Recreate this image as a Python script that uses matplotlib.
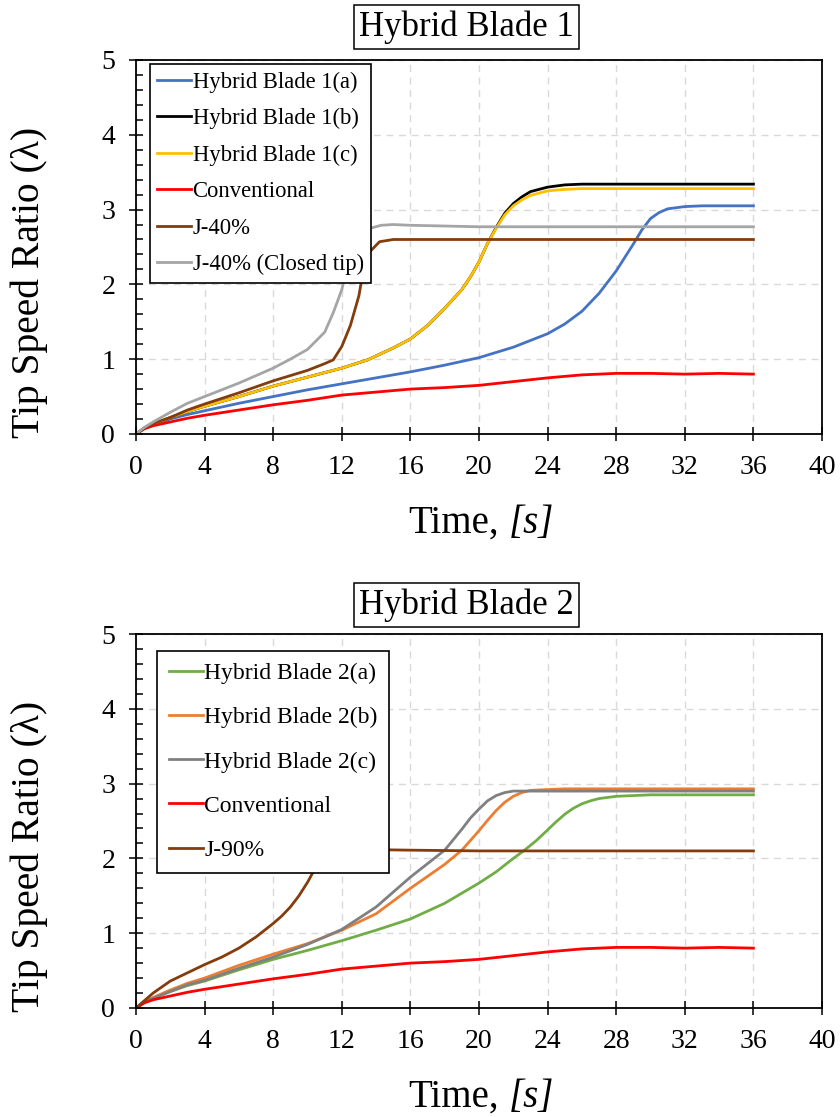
import matplotlib
matplotlib.use("Agg")
import matplotlib.pyplot as plt
from matplotlib.ticker import MultipleLocator

plt.rcParams['font.family'] = ['Liberation Serif', 'DejaVu Serif']

# ---- data (time [s], tip speed ratio) ----
# conventional blade (same in both panels)
t_conv = [0, 0.5, 1, 2, 3, 4, 6, 8, 10, 12, 14, 16, 18, 20, 22, 24, 26, 28, 30, 32, 34, 36]
conv = [0, 0.07, 0.11, 0.16, 0.21, 0.25, 0.32, 0.39, 0.45, 0.52, 0.56, 0.6, 0.62, 0.65, 0.7, 0.75,
        0.79, 0.81, 0.81, 0.80, 0.81, 0.80]

# panel 1
t_h1a = [0, 0.5, 1, 2, 3, 4, 6, 8, 10, 12, 14, 16, 18, 20, 22, 24, 25, 26, 27, 27.5, 28, 28.5, 29,
         29.5, 30, 30.5, 31, 32, 33, 36]
h1a = [0, 0.08, 0.12, 0.2, 0.26, 0.31, 0.41, 0.5, 0.59, 0.67, 0.75, 0.83, 0.92, 1.02, 1.16, 1.34, 1.47,
       1.64, 1.88, 2.03, 2.18, 2.36, 2.54, 2.73, 2.88, 2.96, 3.01, 3.04, 3.05, 3.05]

t_h1b = [0, 0.5, 1, 2, 3, 4, 6, 8, 10, 12, 13.5, 15, 16, 17, 18, 19, 19.5, 20, 20.5, 21, 21.5, 22,
         22.5, 23, 24, 25, 26, 36]
h1b = [0, 0.08, 0.13, 0.22, 0.3, 0.37, 0.5, 0.64, 0.76, 0.88, 0.99, 1.15, 1.27, 1.45, 1.68, 1.93, 2.1,
       2.3, 2.55, 2.76, 2.95, 3.08, 3.17, 3.24, 3.3, 3.33, 3.34, 3.34]

t_h1c = [0, 0.5, 1, 2, 3, 4, 6, 8, 10, 12, 13.5, 15, 16, 17, 18, 19, 19.5, 20, 20.5, 21, 21.5, 22,
         22.5, 23, 24, 25, 26, 36]
h1c = [0, 0.08, 0.13, 0.22, 0.3, 0.37, 0.5, 0.64, 0.76, 0.88, 0.99, 1.15, 1.27, 1.45, 1.68, 1.93, 2.1,
       2.3, 2.55, 2.75, 2.93, 3.05, 3.13, 3.19, 3.25, 3.27, 3.28, 3.28]

t_j40 = [0, 0.5, 1, 2, 3, 4, 6, 8, 10, 11, 11.5, 12, 12.5, 13, 13.25, 13.65, 14.2, 15, 16, 36]
j40 = [0, 0.08, 0.14, 0.22, 0.32, 0.4, 0.55, 0.71, 0.85, 0.94, 0.99, 1.17, 1.45, 1.85, 2.19, 2.44,
       2.57, 2.6, 2.6, 2.6]

t_j40c = [0, 0.5, 1, 2, 3, 4, 6, 8, 9, 10, 11, 11.5, 12, 12.5, 13, 13.65, 14.3, 15, 16, 18, 20, 36]
j40c = [0, 0.09, 0.16, 0.29, 0.41, 0.5, 0.68, 0.88, 1.0, 1.13, 1.36, 1.62, 1.93, 2.4, 2.63, 2.75, 2.79,
        2.8, 2.79, 2.78, 2.77, 2.77]

# panel 2
t_h2a = [0, 0.5, 1, 2, 3, 4, 6, 8, 10, 12, 14, 16, 18, 20, 21, 22, 22.6, 23.3, 24, 24.5, 25, 25.5, 26,
         26.5, 27, 28, 30, 36]
h2a = [0, 0.08, 0.13, 0.22, 0.3, 0.36, 0.51, 0.65, 0.77, 0.9, 1.04, 1.19, 1.4, 1.67, 1.82, 2.0, 2.1,
       2.23, 2.38, 2.49, 2.59, 2.67, 2.73, 2.77, 2.8, 2.83, 2.85, 2.85]

t_h2b = [0, 0.5, 1, 2, 3, 4, 6, 8, 10, 12, 14, 16, 17, 18, 19, 19.5, 20, 20.5, 21, 21.5, 22, 22.5, 23,
         24, 25, 36]
h2b = [0, 0.08, 0.14, 0.24, 0.33, 0.4, 0.57, 0.72, 0.86, 1.04, 1.26, 1.6, 1.76, 1.92, 2.11, 2.24, 2.37,
       2.51, 2.64, 2.75, 2.83, 2.88, 2.91, 2.92, 2.93, 2.93]

t_h2c = [0, 0.5, 1, 2, 3, 4, 6, 8, 10, 12, 14, 16, 17, 18, 18.5, 19, 19.5, 20, 20.5, 21, 21.5, 22, 23, 36]
h2c = [0, 0.08, 0.13, 0.22, 0.31, 0.37, 0.53, 0.68, 0.85, 1.05, 1.35, 1.75, 1.93, 2.11, 2.25, 2.39,
       2.54, 2.66, 2.77, 2.84, 2.88, 2.9, 2.9, 2.9]

t_j90 = [0, 0.5, 1, 2, 3, 4, 5, 6, 7, 8, 8.5, 9, 9.5, 10, 10.5, 11, 11.5, 12, 13, 16, 20, 36]
j90 = [0, 0.1, 0.2, 0.36, 0.47, 0.58, 0.68, 0.8, 0.95, 1.13, 1.23, 1.35, 1.5, 1.68, 1.89, 2.04, 2.1,
       2.12, 2.12, 2.11, 2.1, 2.1]

panel1 = [
    (t_h1a, h1a, "Hybrid Blade 1(a)", "#4472C4"),
    (t_h1b, h1b, "Hybrid Blade 1(b)", "#000000"),
    (t_h1c, h1c, "Hybrid Blade 1(c)", "#FFC000"),
    (t_conv, conv, "Conventional", "#FF0000"),
    (t_j40, j40, "J-40%", "#843C0C"),
    (t_j40c, j40c, "J-40% (Closed tip)", "#A5A5A5"),
]
panel2 = [
    (t_h2a, h2a, "Hybrid Blade 2(a)", "#70AD47"),
    (t_h2b, h2b, "Hybrid Blade 2(b)", "#ED7D31"),
    (t_h2c, h2c, "Hybrid Blade 2(c)", "#808080"),
    (t_conv, conv, "Conventional", "#FF0000"),
    (t_j90, j90, "J-90%", "#843C0C"),
]


def style_axes(ax, title, title_y):
    ax.set_xlim(0, 40)
    ax.set_ylim(0, 5)
    ax.xaxis.set_major_locator(MultipleLocator(4))
    ax.yaxis.set_major_locator(MultipleLocator(1))
    ax.yaxis.set_minor_locator(MultipleLocator(0.2))
    ax.tick_params(which='major', direction='inout', length=10, width=1.1, labelsize=20, pad=10)
    ax.tick_params(axis='y', which='minor', direction='in', length=5, width=1.1)
    ax.grid(True, which='major', linestyle=(0, (5, 4)), color='#d9d9d9', linewidth=1)
    ax.set_axisbelow(True)
    for s in ax.spines.values():
        s.set_linewidth(1.3)
    # x label: "Time," upright + "[s]" italic
    ax.text(0.529, -0.265, "Time,", transform=ax.transAxes, ha='right', va='baseline', fontsize=28)
    ax.text(0.543, -0.265, "[s]", transform=ax.transAxes, ha='left', va='baseline', fontsize=28,
            style='italic')
    ax.set_ylabel("Tip Speed Ratio (λ)", fontsize=28.5)
    ax.yaxis.set_label_coords(-0.128, 0.405)
    ax.text(0.482, title_y, title, transform=ax.transAxes, ha='center', va='center', fontsize=25,
            bbox=dict(boxstyle='square,pad=0.15', fc='white', ec='black', lw=1.1))


fig = plt.figure(figsize=(8.4, 11.17), dpi=100)
ax1 = fig.add_axes([0.1619, 0.6115, 0.8167, 0.3348])
ax2 = fig.add_axes([0.1619, 0.0976, 0.8167, 0.3348])

for t, v, lab, c in panel1:
    ax1.plot(t, v, color=c, lw=2.0, label=lab)
for t, v, lab, c in panel2:
    ax2.plot(t, v, color=c, lw=2.0, label=lab)

style_axes(ax1, "Hybrid Blade 1", 1.088)
style_axes(ax2, "Hybrid Blade 2", 1.078)

leg1 = ax1.legend(loc='upper left', bbox_to_anchor=(0.0204, 0.989), borderaxespad=0, fancybox=False,
                  edgecolor='black', framealpha=1, fontsize=16.3, handlelength=1.5,
                  handletextpad=0.05, labelspacing=0.68, borderpad=0.33)
leg1.get_frame().set_linewidth(1.2)
leg2 = ax2.legend(loc='upper left', bbox_to_anchor=(0.0306, 0.955), borderaxespad=0, fancybox=False,
                  edgecolor='black', framealpha=1, fontsize=17, handlelength=1.45,
                  handletextpad=0.05, labelspacing=0.96, borderpad=0.5)
leg2.get_frame().set_linewidth(1.2)

fig.savefig("out.png", dpi=100)
